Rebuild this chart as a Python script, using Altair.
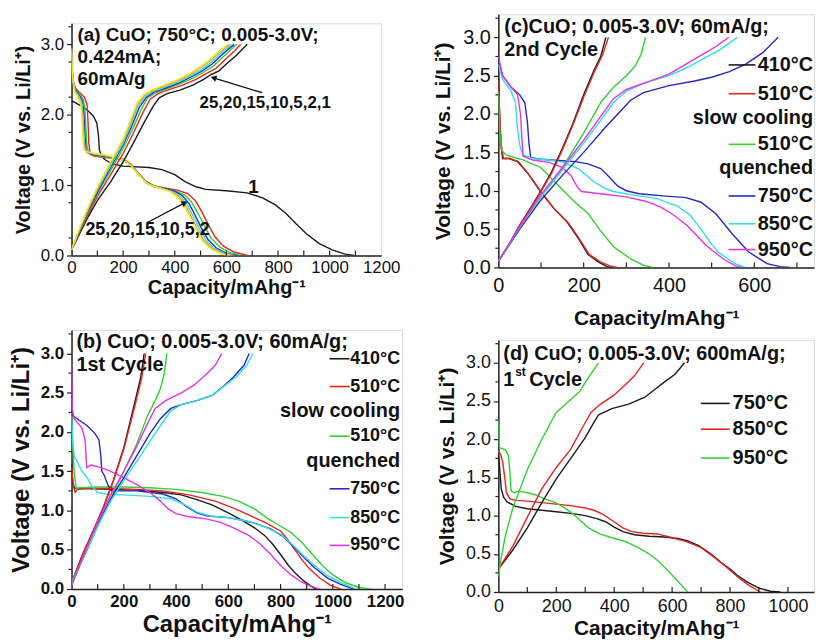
import altair as alt
import pandas as pd

FONT = "Liberation Sans"

# ---------------- colours ----------------
BLACK, RED, GREEN, BLUE = "#1a1a1a", "#e8231e", "#2fd12f", "#2626c9"
CYAN, MAGENTA, ORANGE, YELLOW = "#2de0e8", "#e533e6", "#f0a030", "#f0ee22"

# ---------------- panel (a): CuO 750C, cycles ----------------
a_cycles = ["1", "2", "5", "10", "15", "20", "25"]
a_colors = [BLACK, RED, GREEN, BLUE, CYAN, ORANGE, YELLOW]

a_dis_1 = [(0,2.2),(30,2.14),(60,2.07),(85,1.98),(98,1.88),(104,1.72),(108,1.5),(115,1.42),(130,1.36),(160,1.3),(200,1.27),(300,1.25),(350,1.22),(400,1.15),(440,1.05),(480,0.98),(520,0.94),(600,0.92),(680,0.89),(740,0.82),(790,0.72),(830,0.6),(870,0.45),(910,0.31),(960,0.17),(1010,0.08),(1060,0.02),(1095,0)]
a_dis_2 = [(0,2.75),(5,2.5),(15,2.38),(30,2.32),(50,2.25),(60,2.15),(64,1.9),(67,1.6),(72,1.44),(90,1.41),(130,1.39),(170,1.38),(200,1.37),(230,1.3),(260,1.17),(290,1.05),(320,0.99),(360,0.96),(410,0.93),(450,0.88),(480,0.78),(505,0.62),(530,0.44),(555,0.27),(590,0.13),(630,0.05),(680,0)]
a_dis_5 = [(0,2.8),(5,2.5),(15,2.36),(30,2.3),(45,2.22),(52,2.1),(56,1.8),(60,1.55),(66,1.46),(90,1.42),(130,1.4),(170,1.38),(200,1.36),(230,1.29),(260,1.16),(290,1.04),(320,0.99),(360,0.95),(400,0.92),(440,0.86),(465,0.76),(490,0.6),(515,0.42),(540,0.25),(575,0.12),(615,0.04),(655,0)]
a_dis_10 = [(0,2.85),(5,2.5),(15,2.35),(30,2.28),(42,2.2),(48,2.0),(52,1.7),(56,1.5),(62,1.46),(90,1.43),(130,1.41),(170,1.39),(200,1.36),(230,1.28),(260,1.15),(290,1.03),(320,0.98),(360,0.95),(395,0.92),(430,0.85),(455,0.74),(478,0.58),(502,0.4),(528,0.23),(560,0.11),(600,0.03),(640,0)]
a_dis_15 = [(0,2.9),(5,2.5),(15,2.33),(28,2.27),(40,2.18),(45,1.95),(49,1.65),(53,1.5),(60,1.47),(90,1.44),(130,1.42),(170,1.39),(200,1.36),(230,1.28),(260,1.15),(290,1.03),(320,0.98),(360,0.94),(390,0.91),(422,0.84),(447,0.73),(470,0.57),(495,0.39),(520,0.22),(552,0.1),(592,0.03),(630,0)]
a_dis_20 = [(0,2.92),(4,2.5),(14,2.32),(26,2.26),(38,2.16),(43,1.9),(47,1.62),(51,1.5),(58,1.47),(90,1.44),(130,1.42),(170,1.39),(200,1.36),(230,1.28),(260,1.15),(290,1.03),(320,0.98),(360,0.94),(385,0.91),(415,0.84),(440,0.72),(463,0.56),(488,0.38),(513,0.21),(545,0.1),(585,0.03),(620,0)]
a_dis_25 = [(0,2.95),(3,2.55),(12,2.33),(24,2.25),(36,2.14),(41,1.9),(45,1.6),(49,1.5),(56,1.48),(90,1.45),(130,1.43),(170,1.4),(200,1.36),(230,1.28),(260,1.15),(290,1.03),(320,0.98),(360,0.94),(380,0.91),(410,0.83),(435,0.71),(458,0.55),(482,0.37),(507,0.2),(540,0.09),(580,0.02),(615,0)]

a_chg_1 = [(0,0.08),(30,0.3),(60,0.52),(100,0.78),(150,1.04),(200,1.33),(240,1.6),(280,1.88),(316,2.12),(340,2.24),(370,2.3),(420,2.35),(470,2.42),(510,2.5),(540,2.57),(570,2.62),(600,2.72),(640,2.85),(681,3.0)]
a_chg_2 = [(0,0.08),(30,0.32),(60,0.55),(100,0.84),(150,1.14),(200,1.45),(240,1.74),(275,2.02),(305,2.22),(335,2.3),(380,2.36),(430,2.42),(480,2.5),(520,2.58),(560,2.66),(600,2.8),(635,2.92),(655,3.0)]
a_chg_5 = [(0,0.08),(30,0.34),(60,0.58),(100,0.88),(150,1.2),(200,1.52),(240,1.82),(270,2.08),(295,2.24),(325,2.31),(370,2.37),(420,2.44),(470,2.52),(510,2.6),(550,2.69),(590,2.83),(640,3.0)]
a_chg_10 = [(0,0.08),(30,0.35),(60,0.6),(100,0.9),(150,1.24),(200,1.57),(235,1.85),(262,2.1),(290,2.25),(320,2.32),(365,2.38),(415,2.45),(465,2.54),(505,2.62),(545,2.72),(585,2.86),(630,3.0)]
a_chg_15 = [(0,0.08),(30,0.36),(60,0.62),(100,0.93),(150,1.27),(200,1.6),(232,1.88),(258,2.12),(285,2.26),(315,2.33),(360,2.39),(410,2.46),(460,2.55),(500,2.63),(540,2.74),(578,2.87),(620,3.0)]
a_chg_20 = [(0,0.08),(30,0.37),(60,0.63),(100,0.95),(150,1.3),(200,1.63),(230,1.9),(255,2.14),(282,2.27),(312,2.34),(355,2.4),(405,2.47),(455,2.56),(495,2.65),(535,2.76),(572,2.88),(612,3.0)]
a_chg_25 = [(0,0.08),(30,0.38),(60,0.65),(100,0.97),(150,1.32),(200,1.66),(228,1.92),(252,2.16),(278,2.28),(308,2.35),(350,2.41),(400,2.48),(450,2.57),(490,2.66),(530,2.77),(567,2.89),(605,3.0)]

# ---------------- panels (b)-(c): six samples ----------------
samples = ["410", "510s", "510q", "750", "850", "950"]
sample_colors = [BLACK, RED, GREEN, BLUE, CYAN, MAGENTA]

b_dis_410 = [(0,1.6),(5,1.35),(12,1.28),(50,1.28),(150,1.27),(250,1.26),(350,1.23),(420,1.2),(480,1.14),(540,1.07),(600,0.97),(650,0.88),(700,0.78),(740,0.68),(770,0.57),(800,0.44),(830,0.3),(860,0.19),(890,0.1),(915,0.04),(935,0)]
b_dis_510s = [(0,1.55),(8,1.3),(14,1.23),(22,1.27),(60,1.28),(150,1.28),(250,1.27),(350,1.25),(450,1.2),(550,1.12),(620,1.03),(680,0.94),(740,0.85),(800,0.74),(830,0.62),(855,0.5),(880,0.38),(910,0.26),(950,0.14),(990,0.05),(1030,0)]
b_dis_510q = [(0,2.25),(4,1.9),(10,1.5),(18,1.28),(30,1.29),(100,1.3),(200,1.3),(300,1.29),(400,1.27),(500,1.23),(580,1.18),(640,1.12),(700,1.02),(750,0.9),(800,0.8),(840,0.72),(880,0.6),(920,0.45),(960,0.3),(1000,0.18),(1050,0.08),(1100,0.02),(1145,0)]
b_dis_750 = [(0,2.22),(30,2.15),(60,2.08),(90,1.98),(105,1.9),(112,1.7),(116,1.5),(125,1.45),(140,1.32),(155,1.24),(170,1.25),(250,1.25),(350,1.21),(400,1.15),(440,1.05),(480,0.97),(520,0.93),(600,0.91),(650,0.88),(700,0.84),(760,0.77),(810,0.67),(850,0.54),(890,0.4),(930,0.27),(980,0.14),(1030,0.06),(1080,0)]
b_dis_850 = [(0,2.2),(4,1.9),(10,1.7),(25,1.6),(40,1.5),(60,1.42),(80,1.3),(100,1.23),(130,1.21),(200,1.2),(300,1.18),(380,1.15),(430,1.08),(480,0.98),(530,0.93),(600,0.91),(680,0.86),(740,0.79),(800,0.7),(850,0.55),(890,0.42),(930,0.3),(980,0.17),(1040,0.07),(1090,0)]
b_dis_950 = [(0,2.9),(3,2.3),(10,2.17),(40,2.05),(52,1.9),(58,1.55),(65,1.56),(75,1.58),(110,1.55),(150,1.5),(200,1.42),(250,1.33),(300,1.23),(340,1.12),(370,1.02),(400,0.96),(450,0.92),(520,0.89),(570,0.85),(620,0.78),(680,0.68),(720,0.58),(760,0.45),(800,0.3),(840,0.18),(880,0.09),(920,0.03),(950,0)]

b_chg_410 = [(0,0.08),(40,0.42),(80,0.72),(120,1.02),(160,1.38),(200,1.8),(240,2.35),(265,2.7),(278,3.0)]
b_chg_510s = [(0,0.08),(40,0.42),(80,0.72),(120,1.03),(160,1.38),(200,1.78),(240,2.3),(268,2.68),(284,3.0)]
b_chg_510q = [(0,0.1),(50,0.42),(100,0.8),(150,1.15),(200,1.5),(250,1.85),(290,2.2),(320,2.4),(340,2.55),(355,2.75),(365,3.0)]
b_chg_750 = [(0,0.05),(50,0.45),(100,0.82),(150,1.15),(200,1.42),(250,1.7),(300,1.98),(340,2.17),(380,2.3),(420,2.35),(480,2.4),(540,2.47),(580,2.58),(620,2.7),(660,2.85),(680,3.0)]
b_chg_850 = [(0,0.05),(50,0.44),(100,0.8),(150,1.12),(200,1.38),(250,1.63),(300,1.88),(340,2.08),(380,2.27),(420,2.35),(480,2.4),(540,2.47),(590,2.6),(630,2.7),(670,2.85),(695,3.0)]
b_chg_950 = [(0,0.05),(50,0.46),(100,0.85),(150,1.2),(200,1.5),(250,1.82),(290,2.1),(320,2.3),(360,2.4),(420,2.5),(470,2.6),(520,2.75),(550,2.85),(575,3.0)]

c_dis_410 = [(0,2.5),(3,2.0),(6,1.6),(10,1.42),(25,1.42),(45,1.38),(70,1.22),(100,0.98),(130,0.77),(160,0.6),(185,0.4),(210,0.17),(235,0.07),(255,0.01),(268,0)]
c_dis_510s = [(0,2.45),(3,2.0),(7,1.6),(12,1.42),(27,1.42),(47,1.38),(72,1.21),(102,0.97),(132,0.76),(163,0.59),(188,0.39),(213,0.17),(240,0.07),(262,0.02),(278,0)]
c_dis_510q = [(0,2.3),(3,1.8),(8,1.52),(20,1.46),(60,1.4),(100,1.3),(140,1.07),(176,0.87),(211,0.7),(238,0.49),(270,0.27),(310,0.11),(340,0.03),(362,0)]
c_dis_750 = [(0,2.7),(10,2.5),(30,2.35),(50,2.25),(62,2.15),(68,1.9),(72,1.6),(76,1.43),(100,1.41),(150,1.39),(180,1.38),(210,1.35),(240,1.29),(260,1.18),(280,1.06),(300,1.0),(330,0.96),(393,0.93),(440,0.91),(475,0.85),(510,0.7),(548,0.44),(587,0.2),(630,0.05),(660,0.01),(684,0)]
c_dis_850 = [(0,2.65),(10,2.45),(30,2.3),(40,2.15),(45,1.8),(50,1.6),(57,1.47),(80,1.42),(120,1.4),(153,1.37),(190,1.28),(223,1.12),(250,1.03),(270,0.99),(320,0.94),(370,0.9),(420,0.8),(450,0.68),(475,0.5),(495,0.34),(515,0.2),(533,0.13),(555,0.05),(579,0)]
c_dis_950 = [(0,2.75),(10,2.5),(30,2.35),(45,2.25),(52,2.0),(55,1.7),(58,1.45),(80,1.4),(120,1.37),(150,1.3),(170,1.2),(185,1.05),(195,0.99),(254,0.95),(300,0.92),(347,0.86),(380,0.79),(409,0.69),(440,0.56),(463,0.43),(485,0.3),(502,0.22),(530,0.1),(556,0.02),(570,0)]

c_chg_410 = [(0,0.08),(25,0.3),(50,0.55),(75,0.77),(100,1.0),(125,1.25),(150,1.55),(175,1.88),(200,2.25),(225,2.58),(240,2.75),(252,3.0)]
c_chg_510s = [(0,0.08),(25,0.3),(50,0.55),(75,0.76),(100,0.99),(125,1.23),(150,1.53),(175,1.86),(200,2.22),(225,2.55),(245,2.78),(258,3.0)]
c_chg_510q = [(0,0.08),(50,0.5),(100,0.92),(150,1.3),(200,1.75),(240,2.15),(270,2.35),(300,2.5),(320,2.62),(335,2.78),(345,3.0)]
c_chg_750 = [(0,0.08),(50,0.5),(100,0.88),(150,1.2),(200,1.5),(250,1.82),(280,2.0),(310,2.18),(340,2.28),(400,2.37),(460,2.43),(500,2.48),(540,2.55),(580,2.65),(620,2.8),(656,3.0)]
c_chg_850 = [(0,0.08),(50,0.52),(100,0.92),(150,1.27),(200,1.62),(240,1.92),(270,2.15),(300,2.3),(340,2.4),(400,2.5),(440,2.6),(480,2.72),(520,2.84),(560,3.0)]
c_chg_950 = [(0,0.08),(50,0.53),(100,0.95),(150,1.3),(200,1.66),(240,1.97),(270,2.2),(300,2.32),(350,2.42),(400,2.52),(440,2.65),(480,2.78),(510,2.88),(540,3.0)]

# ---------------- panel (d): 600 mA/g ----------------
d_samples = ["750", "850", "950"]
d_colors = [BLACK, RED, GREEN]

d_dis_750 = [(0,1.8),(5,1.6),(10,1.35),(18,1.24),(30,1.18),(60,1.12),(100,1.09),(150,1.07),(200,1.05),(250,1.03),(300,1.0),(340,0.96),(370,0.92),(400,0.85),(430,0.79),(470,0.75),(520,0.73),(574,0.72),(620,0.7),(654,0.67),(690,0.61),(711,0.56),(740,0.48),(768,0.39),(800,0.3),(825,0.22),(860,0.13),(900,0.05),(940,0.01),(974,0)]
d_dis_850 = [(0,1.85),(8,1.8),(15,1.7),(22,1.5),(28,1.3),(40,1.22),(60,1.2),(100,1.19),(150,1.17),(200,1.15),(250,1.13),(300,1.1),(330,1.07),(360,1.02),(400,0.92),(430,0.84),(460,0.79),(500,0.77),(550,0.76),(600,0.71),(650,0.66),(700,0.58),(740,0.47),(780,0.35),(820,0.22),(860,0.1),(905,0)]
d_dis_950 = [(0,2.25),(3,1.9),(10,1.88),(25,1.86),(35,1.78),(40,1.55),(44,1.32),(55,1.3),(70,1.32),(100,1.3),(129,1.27),(160,1.22),(197,1.17),(230,1.1),(255,1.03),(285,0.93),(312,0.84),(350,0.76),(392,0.71),(440,0.66),(483,0.58),(520,0.5),(551,0.41),(580,0.3),(608,0.19),(630,0.1),(654,0)]

d_chg_750 = [(0,0.3),(50,0.55),(100,0.84),(150,1.17),(200,1.48),(250,1.75),(300,2.02),(330,2.22),(346,2.32),(392,2.4),(450,2.46),(506,2.55),(540,2.65),(574,2.75),(610,2.85),(643,3.0)]
d_chg_850 = [(0,0.3),(50,0.6),(100,0.98),(150,1.35),(200,1.63),(250,1.87),(290,2.15),(320,2.35),(350,2.45),(400,2.58),(440,2.72),(470,2.83),(502,3.0)]
d_chg_950 = [(0,0.2),(10,0.45),(25,0.75),(50,1.1),(100,1.6),(150,2.0),(200,2.35),(250,2.52),(280,2.62),(310,2.8),(346,3.0)]

y_ticks = [0.0, 0.5, 1.0, 1.5, 2.0, 2.5, 3.0]
y_minor = [0.25, 0.75, 1.25, 1.75, 2.25, 2.75, 3.25]

Y_TITLE = "Voltage (V vs. Li/Li\u207a)"
X_TITLE = "Capacity/mAhg\u207b\u00b9"


def frame(curves, domain, colors):
    cmap = dict(zip(domain, colors))
    rows = []
    for series, kind, pts in curves:
        for i, (x, y) in enumerate(pts):
            rows.append({"series": series, "col": cmap[series], "curve": series + "_" + kind,
                         "i": i, "cap": x, "v": y})
    return pd.DataFrame(rows)


def panel(curves, domain, colors, xmax, xlabels, xminor, w, h, lab_size, lab_weight,
          lab_pad_x, title_size, title_pad_x, ytitle_pad, texts, legend):
    df = frame(curves, domain, colors)
    xs = alt.Scale(domain=[0, xmax], nice=False, zero=False)
    ys = alt.Scale(domain=[0, 3.3], nice=False)
    lines = alt.Chart(df).mark_line(strokeWidth=1.4, clip=True).encode(
        x=alt.X("cap:Q", scale=xs, axis=alt.Axis(
            values=xlabels, format="d", ticks=False, grid=False, domainColor="#222", domainWidth=1.5,
            labelFont=FONT, labelFontSize=lab_size, labelFontWeight=lab_weight, labelColor="#111",
            labelPadding=lab_pad_x, labelFlush=False, title=X_TITLE, titleFont=FONT,
            titleFontSize=title_size, titleFontWeight="bold", titleColor="#111", titlePadding=title_pad_x)),
        y=alt.Y("v:Q", scale=ys, axis=alt.Axis(
            values=y_ticks, format=".1f", tickSize=5, tickWidth=1.2, tickColor="#222", grid=False,
            domainColor="#222", domainWidth=1.5, labelFont=FONT, labelFontSize=lab_size,
            labelFontWeight=lab_weight, labelColor="#111", labelPadding=3, labelFlush=False,
            title=Y_TITLE, titleFont=FONT, titleFontSize=title_size, titleFontWeight="bold",
            titleColor="#111", titlePadding=ytitle_pad)),
        color=alt.Color("col:N", scale=None, legend=None),
        detail="curve:N",
        order="i:Q",
    )
    xt = alt.Chart(pd.DataFrame({"t": xminor})).mark_rule(color="#222", strokeWidth=1.2).encode(
        x=alt.X("t:Q", scale=xs), y=alt.value(h), y2=alt.value(h - 5))
    yt = alt.Chart(pd.DataFrame({"t": y_minor})).mark_rule(color="#222", strokeWidth=1.2).encode(
        y=alt.Y("t:Q", scale=ys), x=alt.value(-3), x2=alt.value(0))
    layers = [lines, xt, yt]
    for (tx, px, py, size, weight, align) in texts:
        layers.append(alt.Chart(pd.DataFrame({"t": [tx]})).mark_text(
            font=FONT, fontSize=size, fontWeight=weight, align=align, baseline="middle", color="#111"
        ).encode(text="t:N", x=alt.value(px), y=alt.value(py)))
    for (color, x1, x2, py) in legend:
        layers.append(alt.Chart(pd.DataFrame({"c": [color]})).mark_rule(
            color=color, strokeWidth=1.6).encode(x=alt.value(x1), x2=alt.value(x2), y=alt.value(py)))
    return alt.layer(*layers).properties(width=w, height=h)


def arrow(x1, y1, x2, y2, ang):
    line = alt.Chart(pd.DataFrame({"a": [0]})).mark_rule(color="#111", strokeWidth=1.3).encode(
        x=alt.value(x1), x2=alt.value(x2), y=alt.value(y1), y2=alt.value(y2))
    head = alt.Chart(pd.DataFrame({"a": [0]})).mark_point(
        shape="triangle-up", filled=True, color="#111", size=45, angle=ang, opacity=1).encode(
        x=alt.value(x2), y=alt.value(y2))
    return [line, head]


# ----- panel a -----
a_curves = [("1", "dis", a_dis_1), ("2", "dis", a_dis_2), ("5", "dis", a_dis_5), ("10", "dis", a_dis_10),
            ("15", "dis", a_dis_15), ("20", "dis", a_dis_20), ("25", "dis", a_dis_25),
            ("1", "chg", a_chg_1), ("2", "chg", a_chg_2), ("5", "chg", a_chg_5), ("10", "chg", a_chg_10),
            ("15", "chg", a_chg_15), ("20", "chg", a_chg_20), ("25", "chg", a_chg_25)]
a_texts = [("(a) CuO; 750°C; 0.005-3.0V;", 6, 12, 19, "bold", "left"),
           ("0.424mA;", 6, 34, 19, "bold", "left"),
           ("60mA/g", 6, 56, 19, "bold", "left"),
           ("25,20,15,10,5,2,1", 129, 80, 17, "bold", "left"),
           ("1", 178, 165, 19, "bold", "left"),
           ("25,20,15,10,5,2", 14, 208, 18, "bold", "left")]
pa = panel(a_curves, a_cycles, a_colors, 1200, list(range(0, 1201, 200)), list(range(100, 1200, 100)),
           312, 234, 17, "normal", 4, 20, 2, 7, a_texts, [])
pa = alt.layer(pa, *arrow(192, 70, 143, 55, 287), *arrow(76, 201, 114, 181, 62))

# ----- panel b -----
b_curves = [(s, "dis", d) for s, d in zip(samples, [b_dis_410, b_dis_510s, b_dis_510q, b_dis_750, b_dis_850, b_dis_950])] + \
           [(s, "chg", d) for s, d in zip(samples, [b_chg_410, b_chg_510s, b_chg_510q, b_chg_750, b_chg_850, b_chg_950])]
b_texts = [("(b) CuO; 0.005-3.0V; 60mA/g;", 5, 12, 20, "bold", "left"),
           ("1st Cycle", 5, 35, 20, "bold", "left"),
           ("410°C", 331, 29, 18, "bold", "right"),
           ("510°C", 331, 57, 18, "bold", "right"),
           ("slow cooling", 331, 82, 20, "bold", "right"),
           ("510°C", 331, 107, 18, "bold", "right"),
           ("quenched", 331, 132, 20, "bold", "right"),
           ("750°C", 331, 160, 18, "bold", "right"),
           ("850°C", 331, 189, 18, "bold", "right"),
           ("950°C", 331, 217, 18, "bold", "right")]
b_leg = [(BLACK, 260, 280, 29), (RED, 260, 280, 57), (GREEN, 260, 280, 107),
         (BLUE, 260, 280, 160), (CYAN, 260, 280, 189), (MAGENTA, 260, 280, 217)]
pb = panel(b_curves, samples, sample_colors, 1265, list(range(0, 1201, 200)), list(range(100, 1265, 100)),
           333, 261, 17, "bold", 5, 24, 3, 7, b_texts, b_leg)

# ----- panel c -----
c_curves = [(s, "dis", d) for s, d in zip(samples, [c_dis_410, c_dis_510s, c_dis_510q, c_dis_750, c_dis_850, c_dis_950])] + \
           [(s, "chg", d) for s, d in zip(samples, [c_chg_410, c_chg_510s, c_chg_510q, c_chg_750, c_chg_850, c_chg_950])]
c_texts = [("(c)CuO; 0.005-3.0V; 60mA/g;", 6, 13, 20, "bold", "left"),
           ("2nd Cycle", 6, 36, 20, "bold", "left"),
           ("410°C", 317, 51, 20, "bold", "right"),
           ("510°C", 317, 80, 20, "bold", "right"),
           ("slow cooling", 317, 105, 20, "bold", "right"),
           ("510°C", 317, 131, 20, "bold", "right"),
           ("quenched", 317, 155, 20, "bold", "right"),
           ("750°C", 317, 183, 20, "bold", "right"),
           ("850°C", 317, 211, 20, "bold", "right"),
           ("950°C", 317, 237, 20, "bold", "right")]
c_leg = [(BLACK, 232, 259, 51), (RED, 232, 259, 80), (GREEN, 232, 259, 131),
         (BLUE, 232, 259, 183), (CYAN, 232, 259, 211), (MAGENTA, 232, 259, 237)]
pc = panel(c_curves, samples, sample_colors, 740, [0, 200, 400, 600], list(range(100, 740, 100)),
           318, 255, 20, "normal", 8, 21, 12, 9, c_texts, c_leg)

# ----- panel d -----
d_curves = [(s, "dis", d) for s, d in zip(d_samples, [d_dis_750, d_dis_850, d_dis_950])] + \
           [(s, "chg", d) for s, d in zip(d_samples, [d_chg_750, d_chg_850, d_chg_950])]
d_texts = [("(d) CuO; 0.005-3.0V; 600mA/g;", 5, 14, 20, "bold", "left"),
           ("1", 5, 40, 20, "bold", "left"),
           ("st", 17, 32, 12, "bold", "left"),
           ("Cycle", 31, 40, 20, "bold", "left"),
           ("750°C", 236, 64, 20, "bold", "left"),
           ("850°C", 236, 90, 20, "bold", "left"),
           ("950°C", 236, 119, 20, "bold", "left")]
d_leg = [(BLACK, 204, 233, 64), (RED, 204, 233, 90), (GREEN, 204, 233, 119)]
pd_ = panel(d_curves, d_samples, d_colors, 1090, list(range(0, 1001, 200)), list(range(100, 1090, 100)),
            318, 254, 18, "normal", 6, 21, 2, 8, d_texts, d_leg)

spacer = alt.Chart(pd.DataFrame({"a": [0]})).mark_point(opacity=0).encode(
    x=alt.value(0), y=alt.value(0)).properties(width=10, height=1, view=alt.ViewBackground(strokeOpacity=0))

left = alt.vconcat(spacer, alt.vconcat(pa, pb, spacing=31), spacing=5)
right = alt.vconcat(pc, pd_, spacing=10)
chart = alt.hconcat(left, right, spacing=27).properties(
    padding={"left": 0, "top": 1, "right": 0, "bottom": 0}
).configure_view(stroke="#333", strokeWidth=1.2).configure(background="white")

chart.save("out.html", embed_options={"renderer": "svg", "actions": False})
